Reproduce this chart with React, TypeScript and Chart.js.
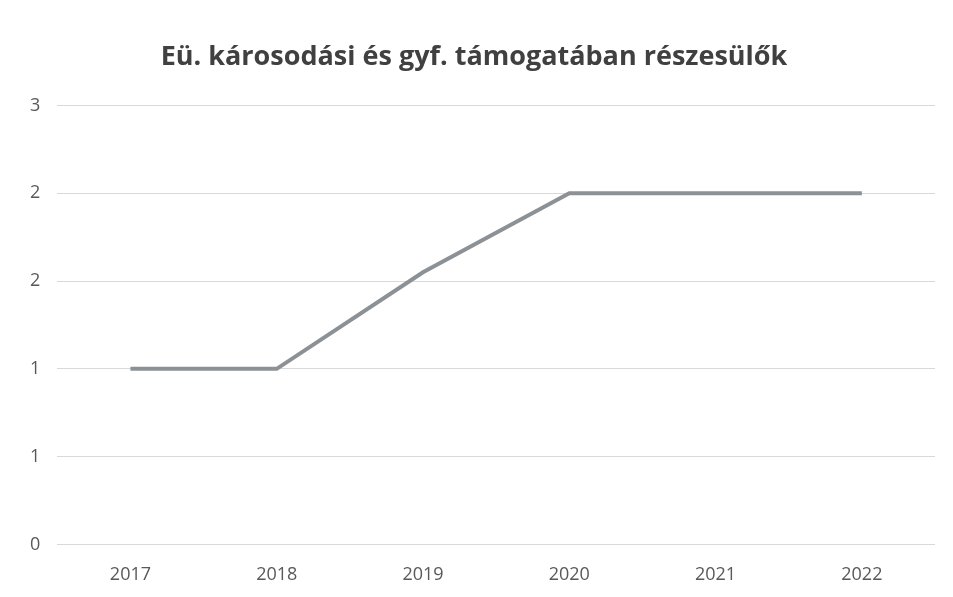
import React, { useEffect, useRef } from "react";
import { Chart, registerables } from "chart.js";

Chart.register(...registerables);

const title = "Eü. károsodási és gyf. támogatában részesülők";
const years = ["2017", "2018", "2019", "2020", "2021", "2022"];
const values = [1, 1, 1.55, 2, 2, 2];
const yMin = 0;
const yMax = 2.5;
const yStep = 0.5;

export default function App() {
  const ref = useRef<HTMLCanvasElement | null>(null);
  useEffect(() => {
    document.body.style.margin = "0";
    const ctx = ref.current!;
    const chart = new Chart(ctx, {
      type: "line",
      data: {
        labels: years,
        datasets: [
          {
            data: values,
            borderColor: "#8c9196",
            borderWidth: 4,
            pointRadius: 0,
            tension: 0,
            fill: false,
          },
        ],
      },
      options: {
        animation: false,
        responsive: false,
        layout: { padding: { left: 13, right: 18, top: 37, bottom: -9 } },
        plugins: {
          legend: { display: false },
          tooltip: { enabled: false },
          title: {
            display: true,
            text: title,
            color: "#404040",
            font: { family: "Open Sans", size: 27, weight: "bold" },
            padding: { top: 4, bottom: 32 },
          },
        },
        scales: {
          x: {
            offset: true,
            grid: { display: false, drawTicks: false },
            border: { display: false },
            ticks: {
              color: "#595959",
              font: { family: "Open Sans", size: 18 },
              padding: 20,
            },
          },
          y: {
            min: yMin,
            max: yMax,
            grid: { color: "#d9d9d9", lineWidth: 1, drawTicks: false },
            border: { display: false },
            ticks: {
              stepSize: yStep,
              color: "#595959",
              font: { family: "Open Sans", size: 18 },
              padding: 17,
              callback: (v: any) => String(Math.round(Number(v))),
            },
          },
        },
      },
    });
    return () => chart.destroy();
  }, []);
  return (
    <div style={{ width: 953, height: 597, background: "#fff" }}>
      <canvas ref={ref} width={953} height={597} />
    </div>
  );
}
